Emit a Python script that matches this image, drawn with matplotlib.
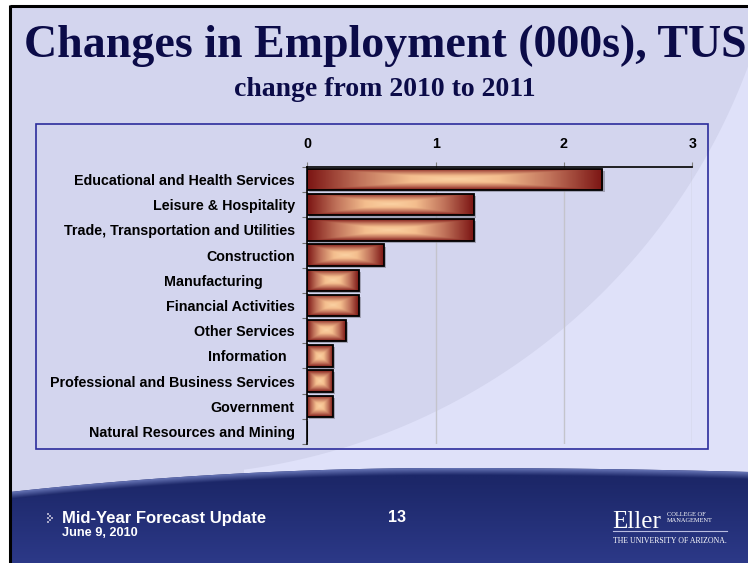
import numpy as np
import matplotlib
matplotlib.use("Agg")
import matplotlib.pyplot as plt
from matplotlib.patches import Rectangle, Polygon, PathPatch
from matplotlib.path import Path
from matplotlib.colors import LinearSegmentedColormap, to_rgb
import matplotlib.patheffects as pe

# ---- data -------------------------------------------------------------
categories = [
    "Educational and Health Services",
    "Leisure & Hospitality",
    "Trade, Transportation and Utilities",
    "Construction",
    "Manufacturing        ",
    "Financial Activities",
    "Other Services",
    "Information  ",
    "Professional and Business Services",
    "Government",
    "Natural Resources and Mining",
]
changes = [2.3, 1.3, 1.3, 0.6, 0.4, 0.4, 0.3, 0.2, 0.2, 0.2, 0.0]
x_ticks = [0, 1, 2, 3]

title = "Changes in Employment (000s), TUS"
subtitle = "change from 2010 to 2011"
footer_title = "Mid-Year Forecast Update"
footer_date = "June 9, 2010"
page_no = "13"

# ---- figure -----------------------------------------------------------
W, H = 748, 563
fig = plt.figure(figsize=(W / 100, H / 100), dpi=100)
fig.patch.set_facecolor("white")

# slide background drawn in pixel coordinates
bg = fig.add_axes([0, 0, 1, 1], zorder=0)
bg.set_xlim(0, W)
bg.set_ylim(H, 0)
bg.axis("off")

slide = Rectangle((10, 5), W - 10, H - 5, fc="#D3D5EE", ec="none", zorder=0)
bg.add_patch(slide)

# lighter sweep in the lower right, bounded by a large arc
cx, cy, rad = 160.0, -152.0, 627.3
ang = np.linspace(np.arctan2(67 - cy, W - cx), np.arctan2(470 - cy, 244 - cx), 120)
arc = np.column_stack([cx + rad * np.cos(ang), cy + rad * np.sin(ang)])
sweep_pts = np.vstack([arc, [[244, H], [W, H], [W, 67]]])
sweep = Polygon(sweep_pts, closed=True, fc="#DFE1F9", ec="none", zorder=0.5)
bg.add_patch(sweep)

# navy footer band with curved top edge
xs = np.linspace(10, W, 200)
ytop = np.where(xs < 450, 468 + 24 * ((xs - 450) / 440) ** 2,
                468 + 4 * ((xs - 450) / 300) ** 2)
verts = list(zip(xs, ytop)) + [(W, H), (10, H), (10, ytop[0])]
codes = [Path.MOVETO] + [Path.LINETO] * (len(verts) - 2) + [Path.CLOSEPOLY]
footer_path = Path(verts, codes)
footer = PathPatch(footer_path, fc="#1F2A6C", ec="none", zorder=1)
bg.add_patch(footer)

gx = np.linspace(10, W, 400)
gy = np.linspace(455, H, 220)
GX, GY = np.meshgrid(gx, gy)
top_line = np.where(GX < 450, 468 + 24 * ((GX - 450) / 440) ** 2,
                    468 + 4 * ((GX - 450) / 300) ** 2)
d = GY - top_line
c_edge = np.array(to_rgb("#6573B4"))
c_mid = np.array(to_rgb("#1C2768"))
c_bot = np.array(to_rgb("#2C3988"))
s = np.clip(d / 7.0, 0, 1)[..., None]
band = c_edge * (1 - s) + c_mid * s
r = np.clip((GY - 480) / (H - 480), 0, 1)[..., None]
img = np.where((d > 7)[..., None], c_mid * (1 - r) + c_bot * r, band)
fim = bg.imshow(img, extent=(10, W, H, 455), aspect="auto",
                interpolation="bilinear", zorder=1.2)
fim.set_clip_path(footer)
bg.set_xlim(0, W)
bg.set_ylim(H, 0)

# slide frame lines
bg.plot([10.5, 10.5], [5, H], color="black", lw=2.2, zorder=3,
        solid_capstyle="butt")
bg.plot([10, W], [5.5, 5.5], color="black", lw=2.2, zorder=3,
        solid_capstyle="butt")

# chart frame
bg.add_patch(Rectangle((36, 124), 672, 325, fc="none", ec="#2C2C9C",
                       lw=1.2, zorder=2))

# titles
bg.text(385, 46, title, ha="center", va="center", color="#0B0B48",
        family="Liberation Serif", weight="bold", fontsize=33, zorder=3)
bg.text(385, 89, subtitle, ha="center", va="center", color="#0B0B48",
        family="Liberation Serif", weight="bold", fontsize=20, zorder=3)

# footer texts
for (bx, by) in [(47, 513), (49, 515), (51, 517), (49, 519), (47, 521),
                 (47, 517)]:
    bg.add_patch(Rectangle((bx, by), 2, 2, fc="#A8A8C8", ec="none", zorder=3))
bg.text(62, 518, footer_title, ha="left", va="center", color="white",
        family="Liberation Sans", weight="bold", fontsize=12, zorder=3)
bg.text(62, 533, footer_date, ha="left", va="center", color="white",
        family="Liberation Sans", weight="bold", fontsize=9.2, zorder=3)
bg.text(397, 518, page_no, ha="center", va="center", color="white",
        family="Liberation Sans", weight="bold", fontsize=11.5, zorder=3)

# logo
bg.text(612, 528, "Eller", ha="left", va="baseline", color="white",
        family="Liberation Serif", fontsize=18, zorder=3)
bg.text(667, 514, "COLLEGE OF", ha="left", va="center", color="white",
        family="Liberation Serif", fontsize=4.6, zorder=3)
bg.text(667, 521, "MANAGEMENT", ha="left", va="center", color="white",
        family="Liberation Serif", fontsize=4.6, zorder=3)
bg.plot([613, 727], [531, 531], color="#B8BCE0", lw=0.8, zorder=3)
bg.text(613, 541, "THE UNIVERSITY OF ARIZONA.", ha="left", va="center",
        color="white", family="Liberation Serif", fontsize=5.6, zorder=3)

# ---- bar chart --------------------------------------------------------
ax = fig.add_axes([307.3 / W, 1 - 444 / H, 385 / W, 277 / H], zorder=2)
ax.patch.set_alpha(0)

n = len(categories)
pos = np.arange(n)
bar_cmap = LinearSegmentedColormap.from_list(
    "copper_box", [(0.0, "#FBD2A3"), (0.3, "#F4BE8E"), (0.65, "#C0725A"),
                   (1.0, "#7C1614")])

bars = ax.barh(pos, changes, height=0.85, color="#8A2A20", ec="none",
               zorder=2,
               path_effects=[pe.SimplePatchShadow(offset=(1.5, -1.5),
                                                  shadow_rgbFace="#808090",
                                                  alpha=0.6),
                             pe.Normal()])
u = np.linspace(-1, 1, 160)
U, V = np.meshgrid(u, u)
box = np.maximum(np.abs(U), np.abs(V))
for b in bars:
    if b.get_width() <= 0:
        continue
    x0, y0 = b.get_x(), b.get_y()
    w, h = b.get_width(), b.get_height()
    im = ax.imshow(box, cmap=bar_cmap, vmin=0, vmax=1,
                   extent=(x0, x0 + w, y0 + h, y0), aspect="auto",
                   interpolation="bilinear", zorder=2.5)
    im.set_clip_path(b)
ax.barh(pos, changes, height=0.85, fill=False, ec="black", lw=1.3, zorder=3)

ax.set_xlim(0, 3)
ax.set_ylim(n - 0.5, -0.5)

ax.xaxis.tick_top()
ax.set_xticks(x_ticks)
ax.set_xticklabels([str(t) for t in x_ticks], family="Liberation Sans",
                   weight="bold", fontsize=10.3)
ax.tick_params(axis="x", direction="out", length=3.5, color="#808080",
               pad=8)
ax.grid(axis="x", color="#C4C4CC", lw=1.0, zorder=1)

ax.set_yticks(np.arange(-0.5, n, 1.0))
ax.set_yticklabels([])
ax.set_yticks(pos, minor=True)
ax.set_yticklabels(categories, minor=True, family="Liberation Sans",
                   weight="bold", fontsize=10.3)
ax.tick_params(axis="y", which="major", direction="out", length=3.5,
               color="#707070")
ax.tick_params(axis="y", which="minor", length=0, pad=9)

for side in ("right", "bottom"):
    ax.spines[side].set_visible(False)
ax.spines["top"].set_color("black")
ax.spines["left"].set_color("black")
ax.spines["top"].set_linewidth(1.2)
ax.spines["left"].set_linewidth(1.2)

fig.savefig("out.png", dpi=100)
